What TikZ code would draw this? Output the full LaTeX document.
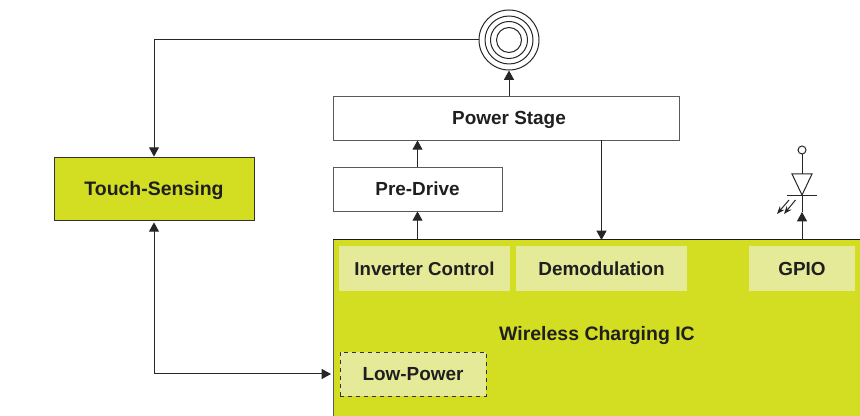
\documentclass[tikz,border=0pt]{standalone}
\usepackage{fontspec}
\setmainfont{Liberation Sans}
\usepackage{tikz}
\usetikzlibrary{arrows.meta}
\definecolor{icgreen}{HTML}{D3DE23}
\definecolor{blockgreen}{HTML}{E5EA98}
\definecolor{linegray}{HTML}{5A5A5A}
\tikzset{
    box/.style={rectangle, draw=linegray, line width=0.6pt, inner sep=0pt, text height=10.5pt, text depth=0pt, font=\fontsize{14.2}{16}\selectfont\bfseries, text=black!88},
    subblock/.style={rectangle, fill=blockgreen, inner sep=0pt, text height=10.5pt, text depth=0pt, font=\fontsize{14.2}{16}\selectfont\bfseries, text=black!88},
    wire/.style={black!85, line width=0.75pt},
    arrowwire/.style={wire, -{Triangle[length=7pt, width=7.5pt]}},
    ring/.style={circle, draw=black!85, line width=0.75pt, inner sep=0pt}
}
\begin{document}
\begin{tikzpicture}[x=0.75pt, y=-0.75pt]
        \useasboundingbox (0,0) rectangle (860,416);

        % wireless charging chip, runs off the page
        \node[fill=icgreen, anchor=north west, inner sep=0pt, minimum width=527*0.75pt, minimum height=176*0.75pt] (ic) at (333,240) {};
        \draw[linegray, line width=0.75pt] (ic.south west) -- (ic.north west);
        \draw[black!90, line width=0.75pt] (ic.north west) -- (ic.north east);
        \node[subblock, minimum width=171*0.75pt, minimum height=45*0.75pt] (inverter) at (424.5,268.5) {\fontsize{14}{16}\selectfont Inverter Control};
        \node[subblock, minimum width=171*0.75pt, minimum height=45*0.75pt] (demod) at (601.5,268.5) {Demodulation};
        \node[subblock, minimum width=106*0.75pt, minimum height=45*0.75pt] (gpio) at (802,268.5) {GPIO};
        \node[font=\fontsize{14.6}{16}\selectfont\bfseries, text=black!88, inner sep=0pt, text height=10.5pt, text depth=0pt] (iclabel) at (597,334) {Wireless Charging IC};
        \node[subblock, draw=black!80, dashed, line width=0.7pt, minimum width=146*0.75pt, minimum height=44*0.75pt] (lowpower) at (413,374) {Low-Power};

        % blocks above the chip
        \node[box, minimum width=346*0.75pt, minimum height=44*0.75pt] (power) at (506,118) {\hspace*{4.5pt}Power Stage};
        \node[box, minimum width=169*0.75pt, minimum height=44*0.75pt] (predrive) at (417.5,189) {Pre-Drive};
        \node[box, fill=icgreen, draw=black!80, minimum width=200*0.75pt, minimum height=63*0.75pt] (touch) at (154,188.5) {\fontsize{14.6}{16}\selectfont Touch-Sensing};

        % coil
        \node[ring, minimum size=60*0.75pt] (coil) at (509,40) {};
        \node[ring, minimum size=48*0.75pt] (coilb) at (509,40) {};
        \node[ring, minimum size=37*0.75pt] (coilc) at (509,40) {};
        \node[ring, minimum size=25*0.75pt] (coild) at (509,40) {};

        % connectors
        \draw[arrowwire] (coil.west) -| (touch.north);
        \draw[arrowwire] (power.north -| coil) -- (coil.south);
        \draw[arrowwire] (predrive.north) -- (power.south -| predrive);
        \draw[arrowwire] (ic.north -| predrive) -- (predrive.south);
        \draw[arrowwire] (power.south -| demod) -- (ic.north -| demod);
        \draw[wire, {Triangle[length=7pt, width=7.5pt]}-{Triangle[length=7pt, width=7.5pt]}] ([yshift=-1.5pt]touch.south) |- ([xshift=-1.5pt]ic.west |- lowpower);

        % LED on the GPIO pin
        \coordinate (ledtop) at (802,174);
        \coordinate (ledtip) at (802,195);
        \coordinate (ledhead) at (802,212);
        \node[ring, minimum size=8*0.75pt] (ledpin) at (802,150) {};
        \draw[wire] (ledpin.south) -- (ledtop);
        \draw[wire] (792,174) -- (812,174) -- (ledtip) -- cycle;
        \draw[wire] (787,195.5) -- (817,195.5);
        \draw[arrowwire] (ic.north -| gpio) -- (ledhead);
        \draw[wire] (ledhead) -- (ledtip);
        \draw[wire, -{Stealth[length=6pt, width=4.5pt]}] (795.5,200) -- (784,214);
        \draw[wire, -{Stealth[length=6pt, width=4.5pt]}] (789,200) -- (777,214);
    \end{tikzpicture}
\end{document}
